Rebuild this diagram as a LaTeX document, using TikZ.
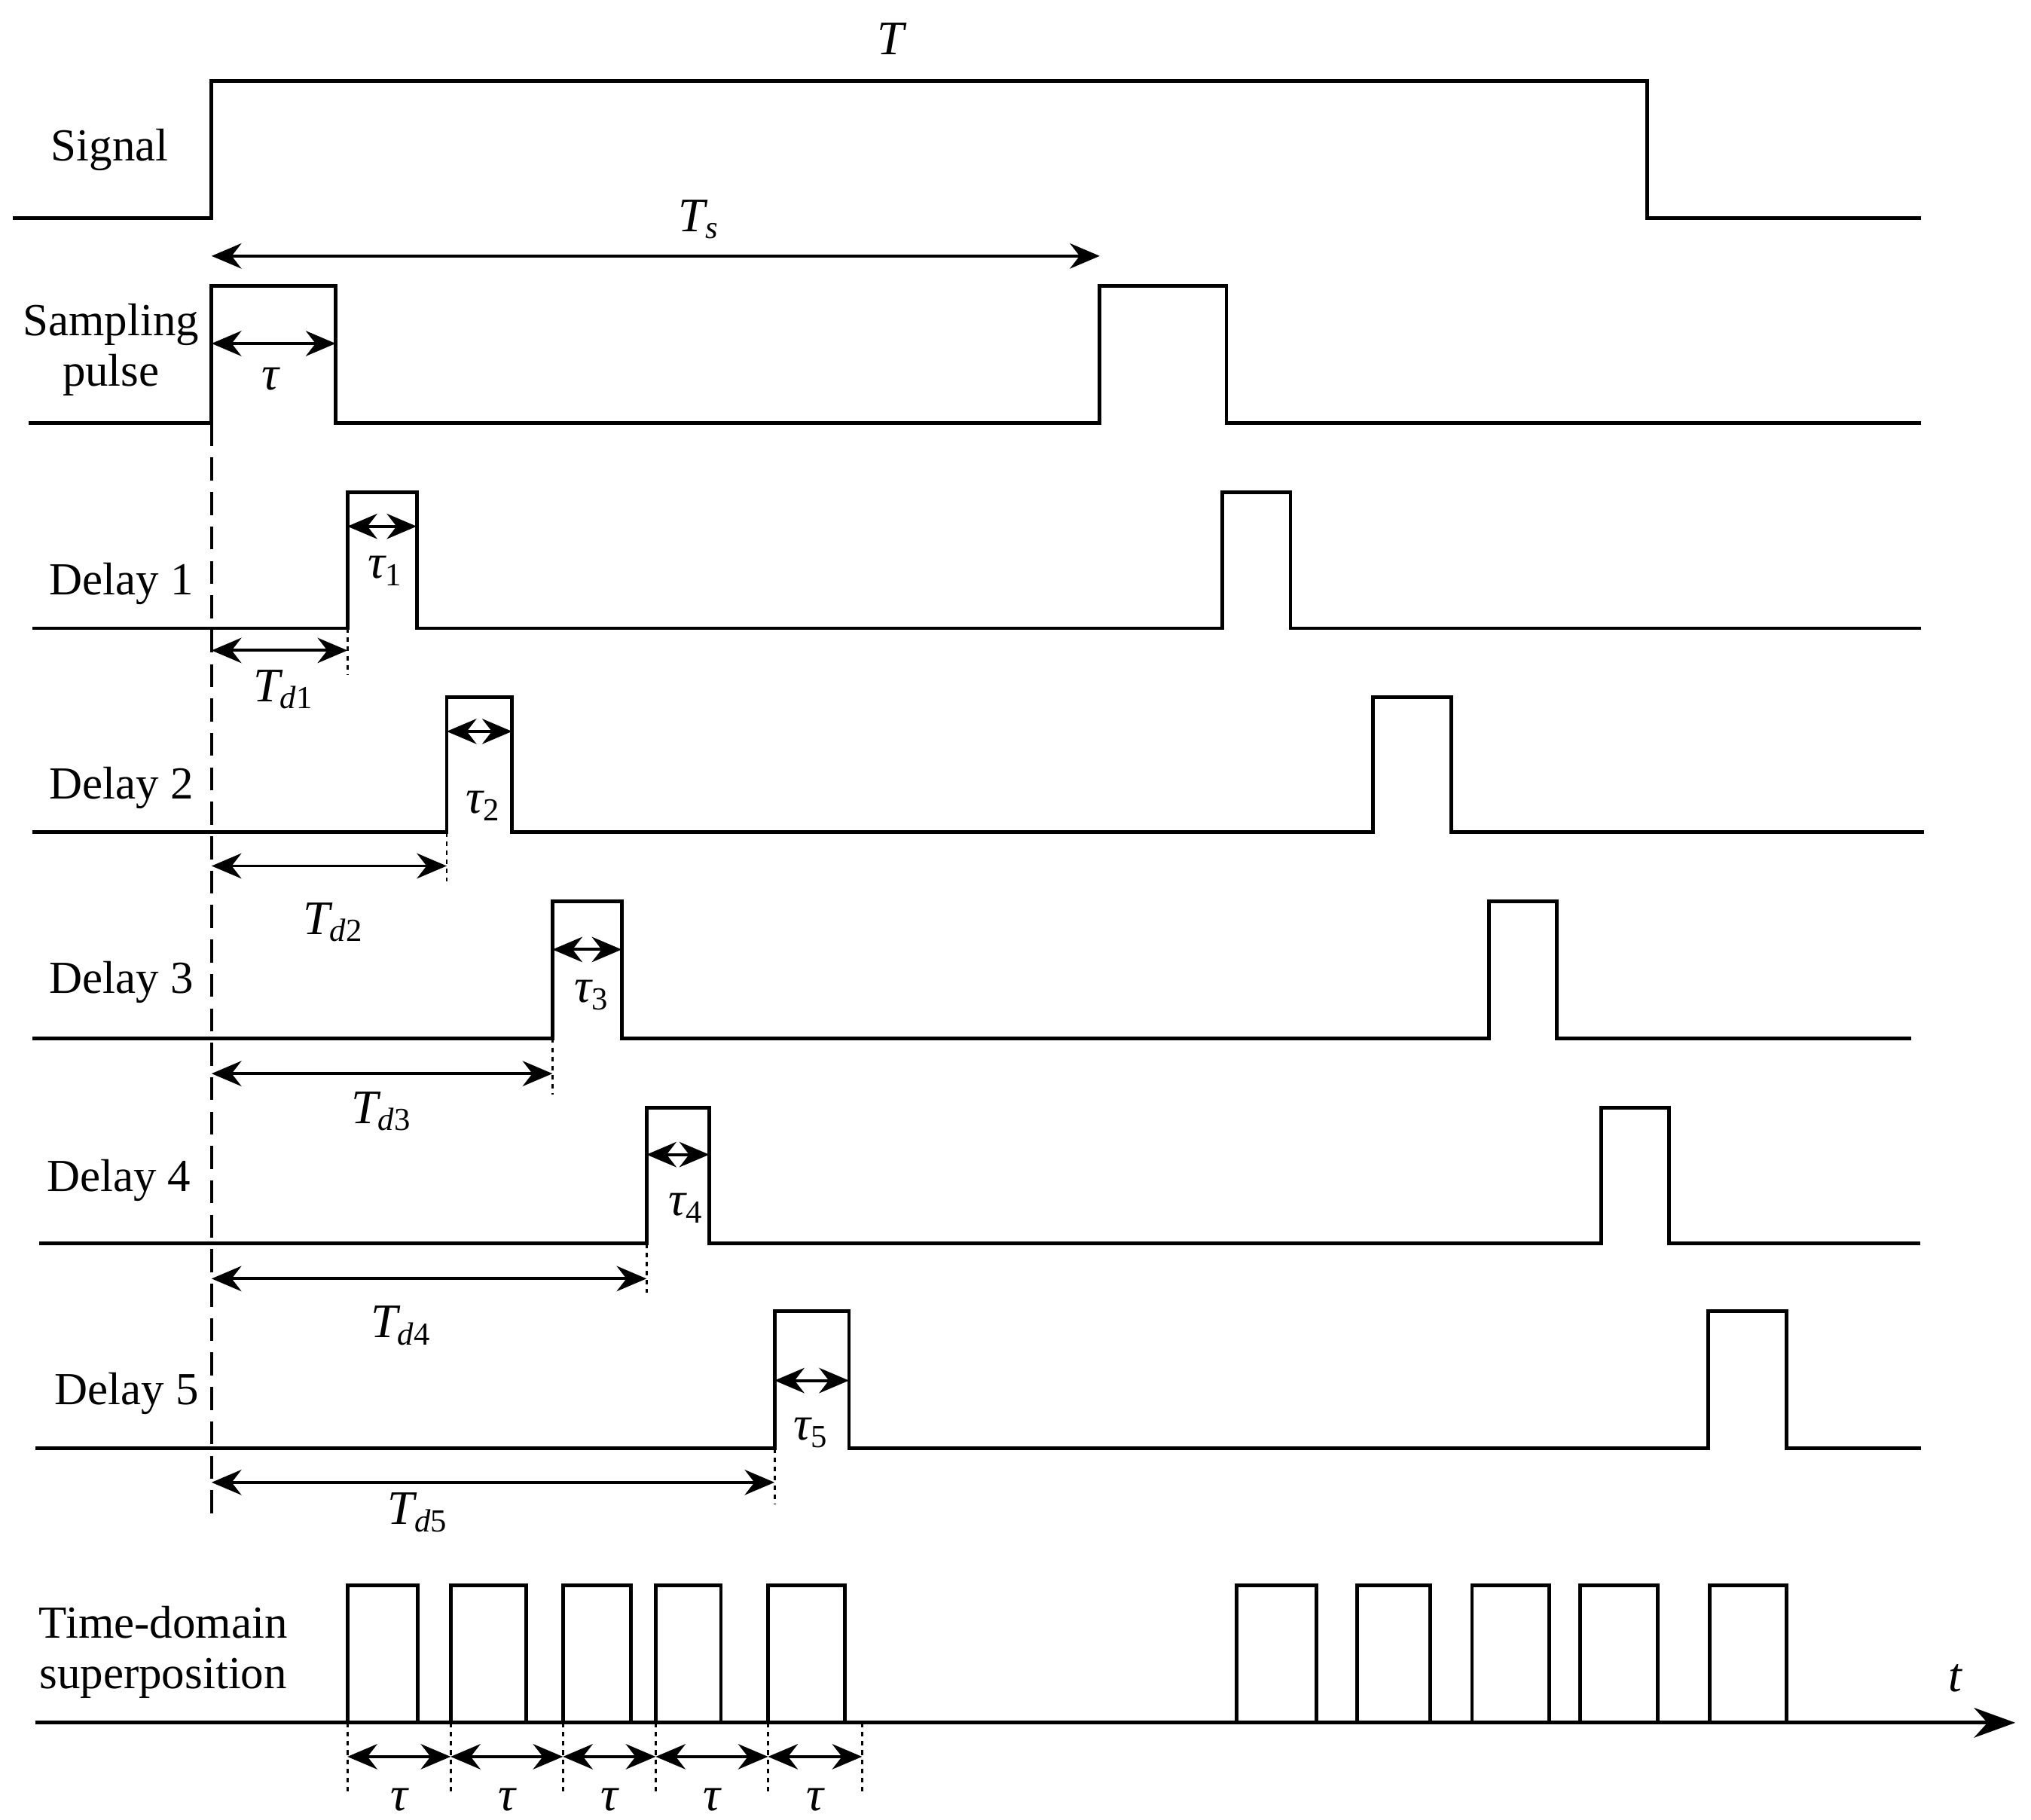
\documentclass[tikz,border=0pt]{standalone}
\usepackage{fontspec}
\setmainfont{Liberation Serif}
\usetikzlibrary{arrows.meta}
\newcommand{\sbs}[1]{\textsubscript{\fontsize{14}{14}\selectfont #1}}
\begin{document}
\begin{tikzpicture}[x=0.02cm,y=-0.02cm,
  wave/.style={line width=1.6pt},
  dim/.style={line width=1.3pt,{Stealth[length=13pt,width=11pt]}-{Stealth[length=13pt,width=11pt]}},
  dot/.style={line width=0.9pt,dash pattern=on 2pt off 2pt},
  lab/.style={font=\fontsize{20}{22}\selectfont,align=center},
  sym/.style={font=\fontsize{21}{22}\selectfont\itshape}]
\useasboundingbox (0,0) rectangle (1555,1393);
% Signal
\draw[wave] (10,167)--(162,167)--(162,62)--(1261,62)--(1261,167)--(1471,167);
\node[lab] (sig) at (84,115) {Signal};
\node[sym] (T) at (682,30) {T};
\draw[dim] (162,196)--(842,196);
\node[sym] (Ts) at (535,168) {T\sbs{s}};
% Sampling
\draw[wave] (22,324)--(162,324)--(162,219)--(257,219)--(257,324)--(842,324)--(842,219)--(939,219)--(939,324)--(1471,324);
\node[lab] (samp) at (85,268) {Sampling\\pulse};
\draw[dim] (162,263)--(257,263);
\node[sym] (tau0) at (207,290) {τ};
\draw[line width=1.2pt,dash pattern=on 10pt off 5pt] (162,324)--(162,1165);
% Delays
\foreach \n/\b/\h/\a/\c/\d/\e/\s/\en/\lx/\ly/\ty/\tlx/\tly/\dy/\dot/\dlx/\dly in {
 1/481/377/266/319/936/988/25/1471/93/447/403/295/437/498/517/217/528,
 2/637/534/342/392/1051/1111/25/1473/93/603/560/370/617/663/675/255/706,
 3/795/690/423/476/1140/1192/25/1463/93/752/727/453/762/822/838/292/851,
 4/952/848/495/543/1226/1278/30/1470/91/904/884/525/925/979/990/307/1015,
 5/1109/1004/593/650/1308/1368/27/1471/97/1067/1057/621/1097/1135/1152/320/1158}{
 \draw[wave] (\s,\b)--(\a,\b)--(\a,\h)--(\c,\h)--(\c,\b)--(\d,\b)--(\d,\h)--(\e,\h)--(\e,\b)--(\en,\b);
 \node[lab] (dl\n) at (\lx,\ly) {Delay \n};
 \draw[dim] (\a,\ty)--(\c,\ty);
 \node[sym] (tl\n) at (\tlx,\tly) {τ\sbs{\upshape\n}};
 \draw[dim] (162,\dy)--(\a,\dy);
 \draw[dot] (\a,\b)--(\a,\dot);
 \node[sym] (td\n) at (\dlx,\dly) {T\sbs{d\upshape\n}};
}
% Superposition
\draw[line width=1.6pt,-{Stealth[length=18pt,width=13pt]}] (27,1319)--(1543,1319);
\foreach \a/\c in {266/320,345/403,431/483,502/552,588/647,947/1008,1039/1095,1127/1186,1210/1269,1309/1368}{
 \draw[wave] (\a,1319)--(\a,1214)--(\c,1214)--(\c,1319);
}
\node[sym] (t) at (1497,1285) {t};
\node[lab] (sup) at (125,1265) {Time-domain\\superposition};
\foreach \a/\c in {266/345,345/431,431/502,502/588,588/660}{
 \draw[dim] (\a,1345)--(\c,1345);
 \node[sym] at ({(\a+\c)/2},1378) {τ};
}
\foreach \a in {266,345,431,502,588,660}{\draw[dot] (\a,1319)--(\a,1372);}
\end{tikzpicture}
\end{document}
